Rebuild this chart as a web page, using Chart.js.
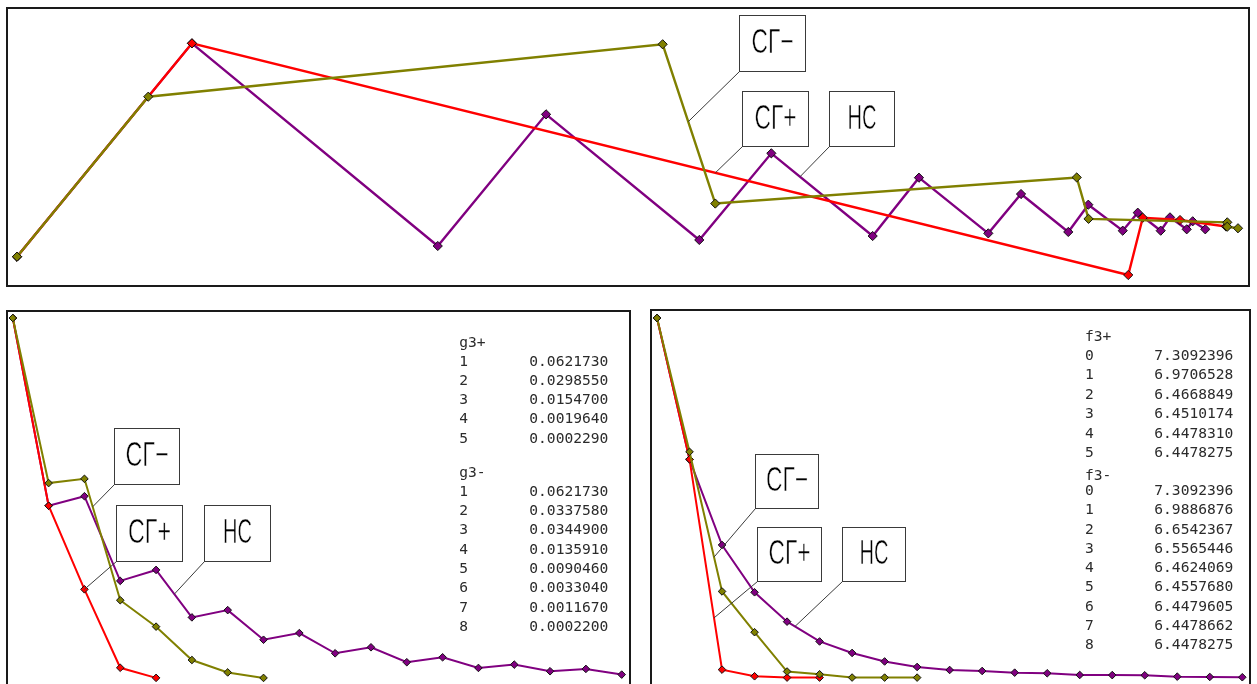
<!DOCTYPE html>
<html><head><meta charset="utf-8">
<script src="https://cdn.jsdelivr.net/npm/chart.js@4.4.1/dist/chart.umd.min.js"></script>
<style>
html,body{margin:0;padding:0;background:#fff;width:1257px;height:684px;overflow:hidden}
.box{position:absolute;border:2px solid #1a1a1a;box-sizing:border-box;background:#fff}
canvas{position:absolute}
</style></head><body>
<div class="box" style="left:6px;top:7px;width:1244px;height:280px"></div>
<div class="box" style="left:6px;top:310px;width:625px;height:400px"></div>
<div class="box" style="left:650px;top:309px;width:601px;height:400px"></div>
<canvas id="c1" width="1240" height="276" style="left:8px;top:9px"></canvas>
<canvas id="c2" width="621" height="372" style="left:8px;top:312px"></canvas>
<canvas id="c3" width="597" height="373" style="left:652px;top:311px"></canvas>
<script>
// ---------- DATA ----------
// Series names
const seriesNames = ['СГ−', 'СГ+', 'НС'];
// Top panel: search trajectories in the (x1, x2) plane
const sgMinusPathX1 = [0.000, 1.075, 5.288, 5.719, 8.679, 8.776, 9.912, 9.912, 10.000];
const sgMinusPathX2 = [0.158, 1.537, 1.989, 0.616, 0.841, 0.484, 0.454, 0.416, 0.403];
const sgPlusPathX1  = [0.000, 1.433, 9.101, 9.220, 9.525, 9.902];
const sgPlusPathX2  = [0.158, 1.997, 0.000, 0.494, 0.474, 0.418];
const nsPathX1 = [0.000, 1.433, 3.446, 4.333, 5.588, 6.178, 7.008, 7.387, 7.955, 8.223, 8.610, 8.774, 9.056, 9.179, 9.367, 9.443, 9.580, 9.629, 9.732];
const nsPathX2 = [0.158, 1.997, 0.250, 1.385, 0.302, 1.049, 0.336, 0.839, 0.359, 0.698, 0.371, 0.606, 0.382, 0.537, 0.382, 0.497, 0.394, 0.463, 0.394];

// Bottom-left: gradient norm g3 by iteration (from 1)
const gPlus  = [0.0621730, 0.0298550, 0.0154700, 0.0019640, 0.0002290];
const gMinus = [0.0621730, 0.0337580, 0.0344900, 0.0135910, 0.0090460, 0.0033040, 0.0011670, 0.0002200];
const gNS    = [0.0621730, 0.0298550, 0.0315000, 0.0169200, 0.0188100, 0.0106400, 0.0118900, 0.0067900, 0.0079400, 0.0044600, 0.0054900, 0.0029200, 0.0037700, 0.0019400, 0.0025100, 0.0013700, 0.0017700, 0.0007900];

// Bottom-right: objective f3 by iteration (from 0)
const fPlus  = [7.3092396, 6.9706528, 6.4668849, 6.4510174, 6.4478310, 6.4478275];
const fMinus = [7.3092396, 6.9886876, 6.6542367, 6.5565446, 6.4624069, 6.4557680, 6.4479605, 6.4478662, 6.4478275];
const fNS    = [7.3092396, 6.9706528, 6.7655, 6.6522, 6.5818, 6.5344, 6.5069, 6.4865, 6.4733, 6.4661, 6.4637, 6.4597, 6.4582, 6.4541, 6.4538, 6.4534, 6.4501, 6.4494, 6.4487];

// ---------- STYLE ----------
const COL = {minus: '#808000', plus: '#ff0000', ns: '#800080'};

function xy(xs, ys){ return xs.map((x,i)=>({x:x, y:ys[i]})); }
function idx(vals, start){ return vals.map((v,i)=>({x:i+start, y:v})); }

function ds(label, data, color, lw, r){
  return {label, data, borderColor: color, backgroundColor: color, borderWidth: lw,
    pointStyle: 'rectRot', pointRadius: r, pointHoverRadius: r, pointBackgroundColor: color,
    pointBorderColor: '#111', pointBorderWidth: 1, tension: 0, fill: false, clip: false};
}

const calloutPlugin = {
  id: 'callouts',
  afterDatasetsDraw(chart, args, opts){
    const ctx = chart.ctx;
    const off = opts.offset || [0,0];
    (opts.items || []).forEach(it => {
      const meta = chart.getDatasetMeta(it.ds);
      const p0 = meta.data[it.seg], p1 = meta.data[it.seg+1] || p0;
      const ax = p0.x + (p1.x - p0.x) * it.t, ay = p0.y + (p1.y - p0.y) * it.t;
      const bx = Math.round(it.box[0] - off[0]) + 0.5, by = Math.round(it.box[1] - off[1]) + 0.5;
      const bw = Math.round(it.box[2]), bh = Math.round(it.box[3]);
      ctx.save();
      ctx.strokeStyle = '#3a3a3a'; ctx.lineWidth = 1;
      ctx.beginPath(); ctx.moveTo(bx, by + bh); ctx.lineTo(ax, ay); ctx.stroke();
      ctx.fillStyle = '#fff'; ctx.fillRect(bx, by, bw, bh);
      ctx.strokeRect(bx, by, bw, bh);
      ctx.font = '35px "Liberation Sans Narrow", "Liberation Sans", sans-serif';
      const m = ctx.measureText(it.text);
      const sx = it.tw / m.width;
      ctx.translate(bx + bw/2, by + bh/2 + 9.5);
      ctx.scale(sx, 1);
      ctx.fillStyle = '#000'; ctx.textAlign = 'center'; ctx.textBaseline = 'alphabetic';
      ctx.fillText(it.text, 0, 0);
      ctx.strokeStyle = '#fff'; ctx.lineWidth = 0.6; ctx.lineJoin = 'round';
      ctx.strokeText(it.text, 0, 0);
      ctx.restore();
    });
  }
};

const tablePlugin = {
  id: 'tables',
  afterDraw(chart, args, opts){
    if (!opts.groups) return;
    const ctx = chart.ctx, off = opts.offset;
    ctx.save();
    ctx.font = '14.6px "DejaVu Sans Mono", "Liberation Mono", monospace';
    ctx.fillStyle = '#2b2b2b'; ctx.textBaseline = 'alphabetic'; ctx.textAlign = 'left';
    opts.groups.forEach(g => {
      ctx.fillText(g.title, opts.labelX - off[0], g.titleY + 5 - off[1]);
      g.values.forEach((v,i) => {
        const y = g.rowY0 + g.step * i + 5 - off[1];
        ctx.fillText(String(i + g.start), opts.labelX - off[0], y);
        ctx.fillText(v.toFixed(7), opts.valueX - off[0], y);
      });
    });
    ctx.restore();
  }
};

Chart.register(calloutPlugin, tablePlugin);

function baseOpts(pad, xr, yr){
  return {
    responsive: false, animation: false, maintainAspectRatio: false,
    layout: {padding: pad},
    plugins: {legend: {display: false}, tooltip: {enabled: false}},
    scales: {
      x: {type: 'linear', display: false, min: xr[0], max: xr[1]},
      y: {type: 'linear', display: false, min: yr[0], max: yr[1]}
    },
    events: []
  };
}

// Top chart
const o1 = baseOpts({left: 9, right: 10, top: 34, bottom: 10}, [0, 10], [0, 2]);
o1.plugins.callouts = {offset: [8, 9], items: [
  {text: 'СГ−', box: [739, 15, 66, 56], tw: 42, ds: 0, seg: 2, t: 0.486},
  {text: 'СГ+', box: [742, 91, 66, 55], tw: 42, ds: 1, seg: 1, t: 0.559},
  {text: 'НС',  box: [829, 91, 65, 55], tw: 29, ds: 2, seg: 5, t: 0.283}
]};
new Chart(document.getElementById('c1'), {
  type: 'line',
  data: {datasets: [
    ds(seriesNames[0], xy(sgMinusPathX1, sgMinusPathX2), COL.minus, 2.4, 4.6),
    ds(seriesNames[1], xy(sgPlusPathX1, sgPlusPathX2), COL.plus, 2.4, 4.6),
    ds(seriesNames[2], xy(nsPathX1, nsPathX2), COL.ns, 2.4, 4.6)
  ]},
  options: o1
});

// Bottom-left chart (g3)
const o2 = baseOpts({left: 4, right: 7.3, top: 6, bottom: 3.7}, [1, 18], [0, 0.062173]);
o2.plugins.callouts = {offset: [8, 312], items: [
  {text: 'СГ−', box: [114, 428, 65, 56], tw: 43, ds: 0, seg: 2, t: 0.23},
  {text: 'СГ+', box: [116, 505, 66, 56], tw: 43, ds: 1, seg: 2, t: 0.0},
  {text: 'НС',  box: [204, 505, 66, 56], tw: 29, ds: 2, seg: 4, t: 0.51}
]};
o2.plugins.tables = {offset: [8, 312], labelX: 459.3, valueX: 529.3, groups: [
  {title: 'g3+', titleY: 342, rowY0: 361, step: 19.15, start: 1, values: gPlus},
  {title: 'g3-', titleY: 471.5, rowY0: 490.7, step: 19.33, start: 1, values: gMinus}
]};
new Chart(document.getElementById('c2'), {
  type: 'line',
  data: {datasets: [
    ds(seriesNames[0], idx(gMinus, 1), COL.minus, 2, 3.8),
    ds(seriesNames[1], idx(gPlus, 1), COL.plus, 2, 3.8),
    ds(seriesNames[2], idx(gNS, 1), COL.ns, 2, 3.8)
  ]},
  options: o2
});

// Bottom-right chart (f3)
const o3 = baseOpts({left: 5, right: 6.7, top: 7, bottom: 6.4}, [0, 18], [6.4478275, 7.3092396]);
o3.plugins.callouts = {offset: [652, 311], items: [
  {text: 'СГ−', box: [755, 454, 63, 54], tw: 42, ds: 0, seg: 1, t: 0.754},
  {text: 'СГ+', box: [757, 527, 64, 54], tw: 42, ds: 1, seg: 1, t: 0.754},
  {text: 'НС',  box: [842, 527, 63, 54], tw: 29, ds: 2, seg: 4, t: 0.243}
]};
o3.plugins.tables = {offset: [652, 311], labelX: 1085, valueX: 1154.3, groups: [
  {title: 'f3+', titleY: 336, rowY0: 355, step: 19.45, start: 0, values: fPlus},
  {title: 'f3-', titleY: 475, rowY0: 490, step: 19.29, start: 0, values: fMinus}
]};
new Chart(document.getElementById('c3'), {
  type: 'line',
  data: {datasets: [
    ds(seriesNames[0], idx(fMinus, 0), COL.minus, 2, 3.8),
    ds(seriesNames[1], idx(fPlus, 0), COL.plus, 2, 3.8),
    ds(seriesNames[2], idx(fNS, 0), COL.ns, 2, 3.8)
  ]},
  options: o3
});
</script>
</body></html>
